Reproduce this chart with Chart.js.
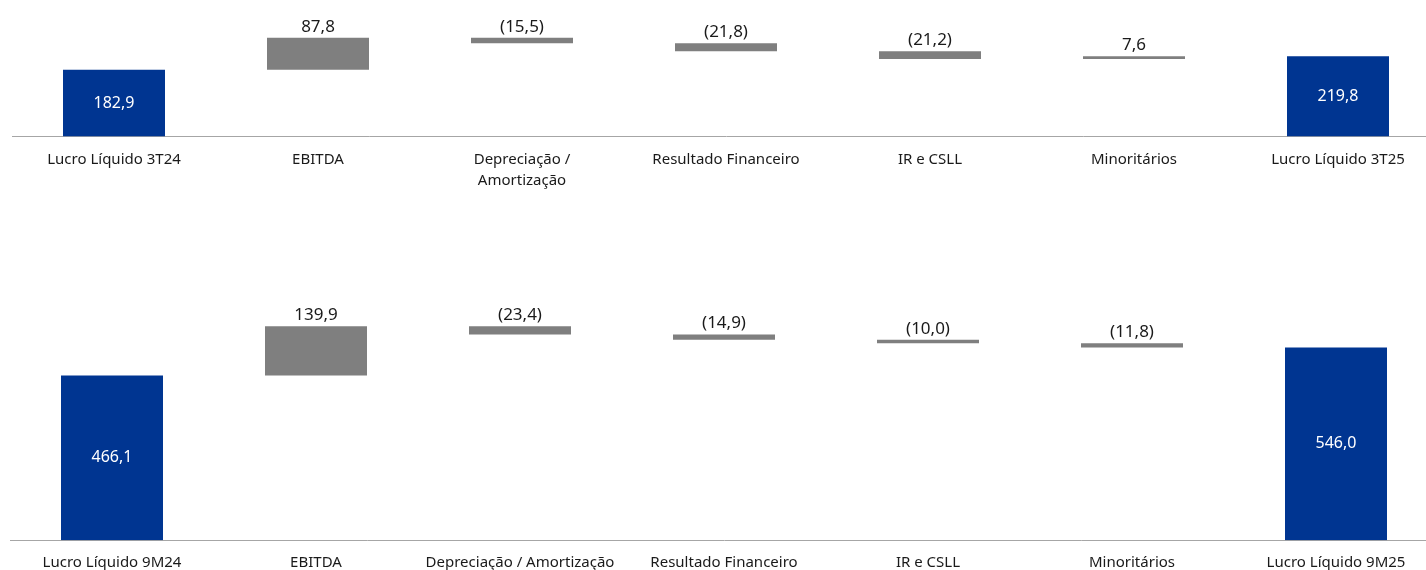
<!DOCTYPE html>
<html>
<head>
<meta charset="utf-8">
<script src="https://cdn.jsdelivr.net/npm/chart.js@4"></script>
<style>
  html, body { margin: 0; padding: 0; background: #fff; overflow: hidden; }
  .box { position: absolute; left: 0; width: 1450px; }
  #top { top: 0; height: 212px; }
  #bottom { top: 260px; height: 332px; }
</style>
</head>
<body>
<div class="box" id="top"><canvas id="chartTop"></canvas></div>
<div class="box" id="bottom"><canvas id="chartBottom"></canvas></div>
<script>
const topLabels = ['Lucro Líquido 3T24', 'EBITDA', ['Depreciação /', 'Amortização'], 'Resultado Financeiro', 'IR e CSLL', 'Minoritários', 'Lucro Líquido 3T25'];
const topValues = [182.9, 87.8, -15.5, -21.8, -21.2, 7.6, 219.8];
const topTotals = [true, false, false, false, false, false, true];

const bottomLabels = ['Lucro Líquido 9M24', 'EBITDA', 'Depreciação / Amortização', 'Resultado Financeiro', 'IR e CSLL', 'Minoritários', 'Lucro Líquido 9M25'];
const bottomValues = [466.1, 139.9, -23.4, -14.9, -10.0, -11.8, 546.0];
const bottomTotals = [true, false, false, false, false, false, true];

const BLUE = '#003591';
const GREY = '#7f7f7f';
const FONT = "'Noto Sans', 'Open Sans', sans-serif";

function formatValue(v) {
    const s = Math.abs(v).toFixed(1).replace('.', ',');
    return v < 0 ? '(' + s + ')' : s;
}

// running sum -> floating bars
function buildRanges(values, totals) {
    let level = 0;
    return values.map((v, i) => {
        if (totals[i]) {
            level = v;
            return [0, v];
        }
        const start = level;
        level = level + v;
        return [start, level];
    });
}

const valueLabels = {
    id: 'valueLabels',
    afterDatasetsDraw(chart, args, opts) {
        const ctx = chart.ctx;
        const meta = chart.getDatasetMeta(0);
        ctx.save();
        ctx.textAlign = 'center';
        ctx.textBaseline = 'middle';
        meta.data.forEach((bar, i) => {
            const v = opts.values[i];
            if (opts.totals[i]) {
                ctx.fillStyle = '#ffffff';
                ctx.font = '16px ' + FONT;
                ctx.fillText(formatValue(v), bar.x, (bar.y + bar.base) / 2);
            } else {
                ctx.fillStyle = '#1a1a1a';
                ctx.font = '17px ' + FONT;
                const top = Math.min(bar.y, bar.base);
                ctx.fillText(formatValue(v), bar.x, top - 11);
            }
        });
        ctx.restore();
    }
};

function makeChart(id, labels, values, totals, yMax, pad) {
    const ranges = buildRanges(values, totals);
    new Chart(document.getElementById(id), {
        type: 'bar',
        data: {
            labels: labels,
            datasets: [{
                data: ranges,
                backgroundColor: totals.map(t => t ? BLUE : GREY),
                borderWidth: 0,
                barPercentage: 1,
                categoryPercentage: 0.5
            }]
        },
        options: {
            responsive: true,
            maintainAspectRatio: false,
            animation: false,
            layout: { padding: pad },
            plugins: {
                legend: { display: false },
                tooltip: { enabled: false },
                valueLabels: { values: values, totals: totals }
            },
            scales: {
                x: {
                    grid: { display: false, drawTicks: false },
                    border: { display: true, color: '#a6a6a6', width: 1 },
                    ticks: {
                        padding: 12,
                        color: '#1a1a1a',
                        maxRotation: 0,
                        autoSkip: false,
                        font: { family: FONT, size: 15, lineHeight: 1.45 }
                    }
                },
                y: {
                    display: false,
                    min: 0,
                    max: yMax
                }
            }
        },
        plugins: [valueLabels]
    });
}

makeChart('chartTop', topLabels, topValues, topTotals, 300, { top: 27, bottom: 8, left: 12, right: 10 });
makeChart('chartBottom', bottomLabels, bottomValues, bottomTotals, 700, { top: 33, bottom: 6, left: 10, right: 12 });
</script>
</body>
</html>
